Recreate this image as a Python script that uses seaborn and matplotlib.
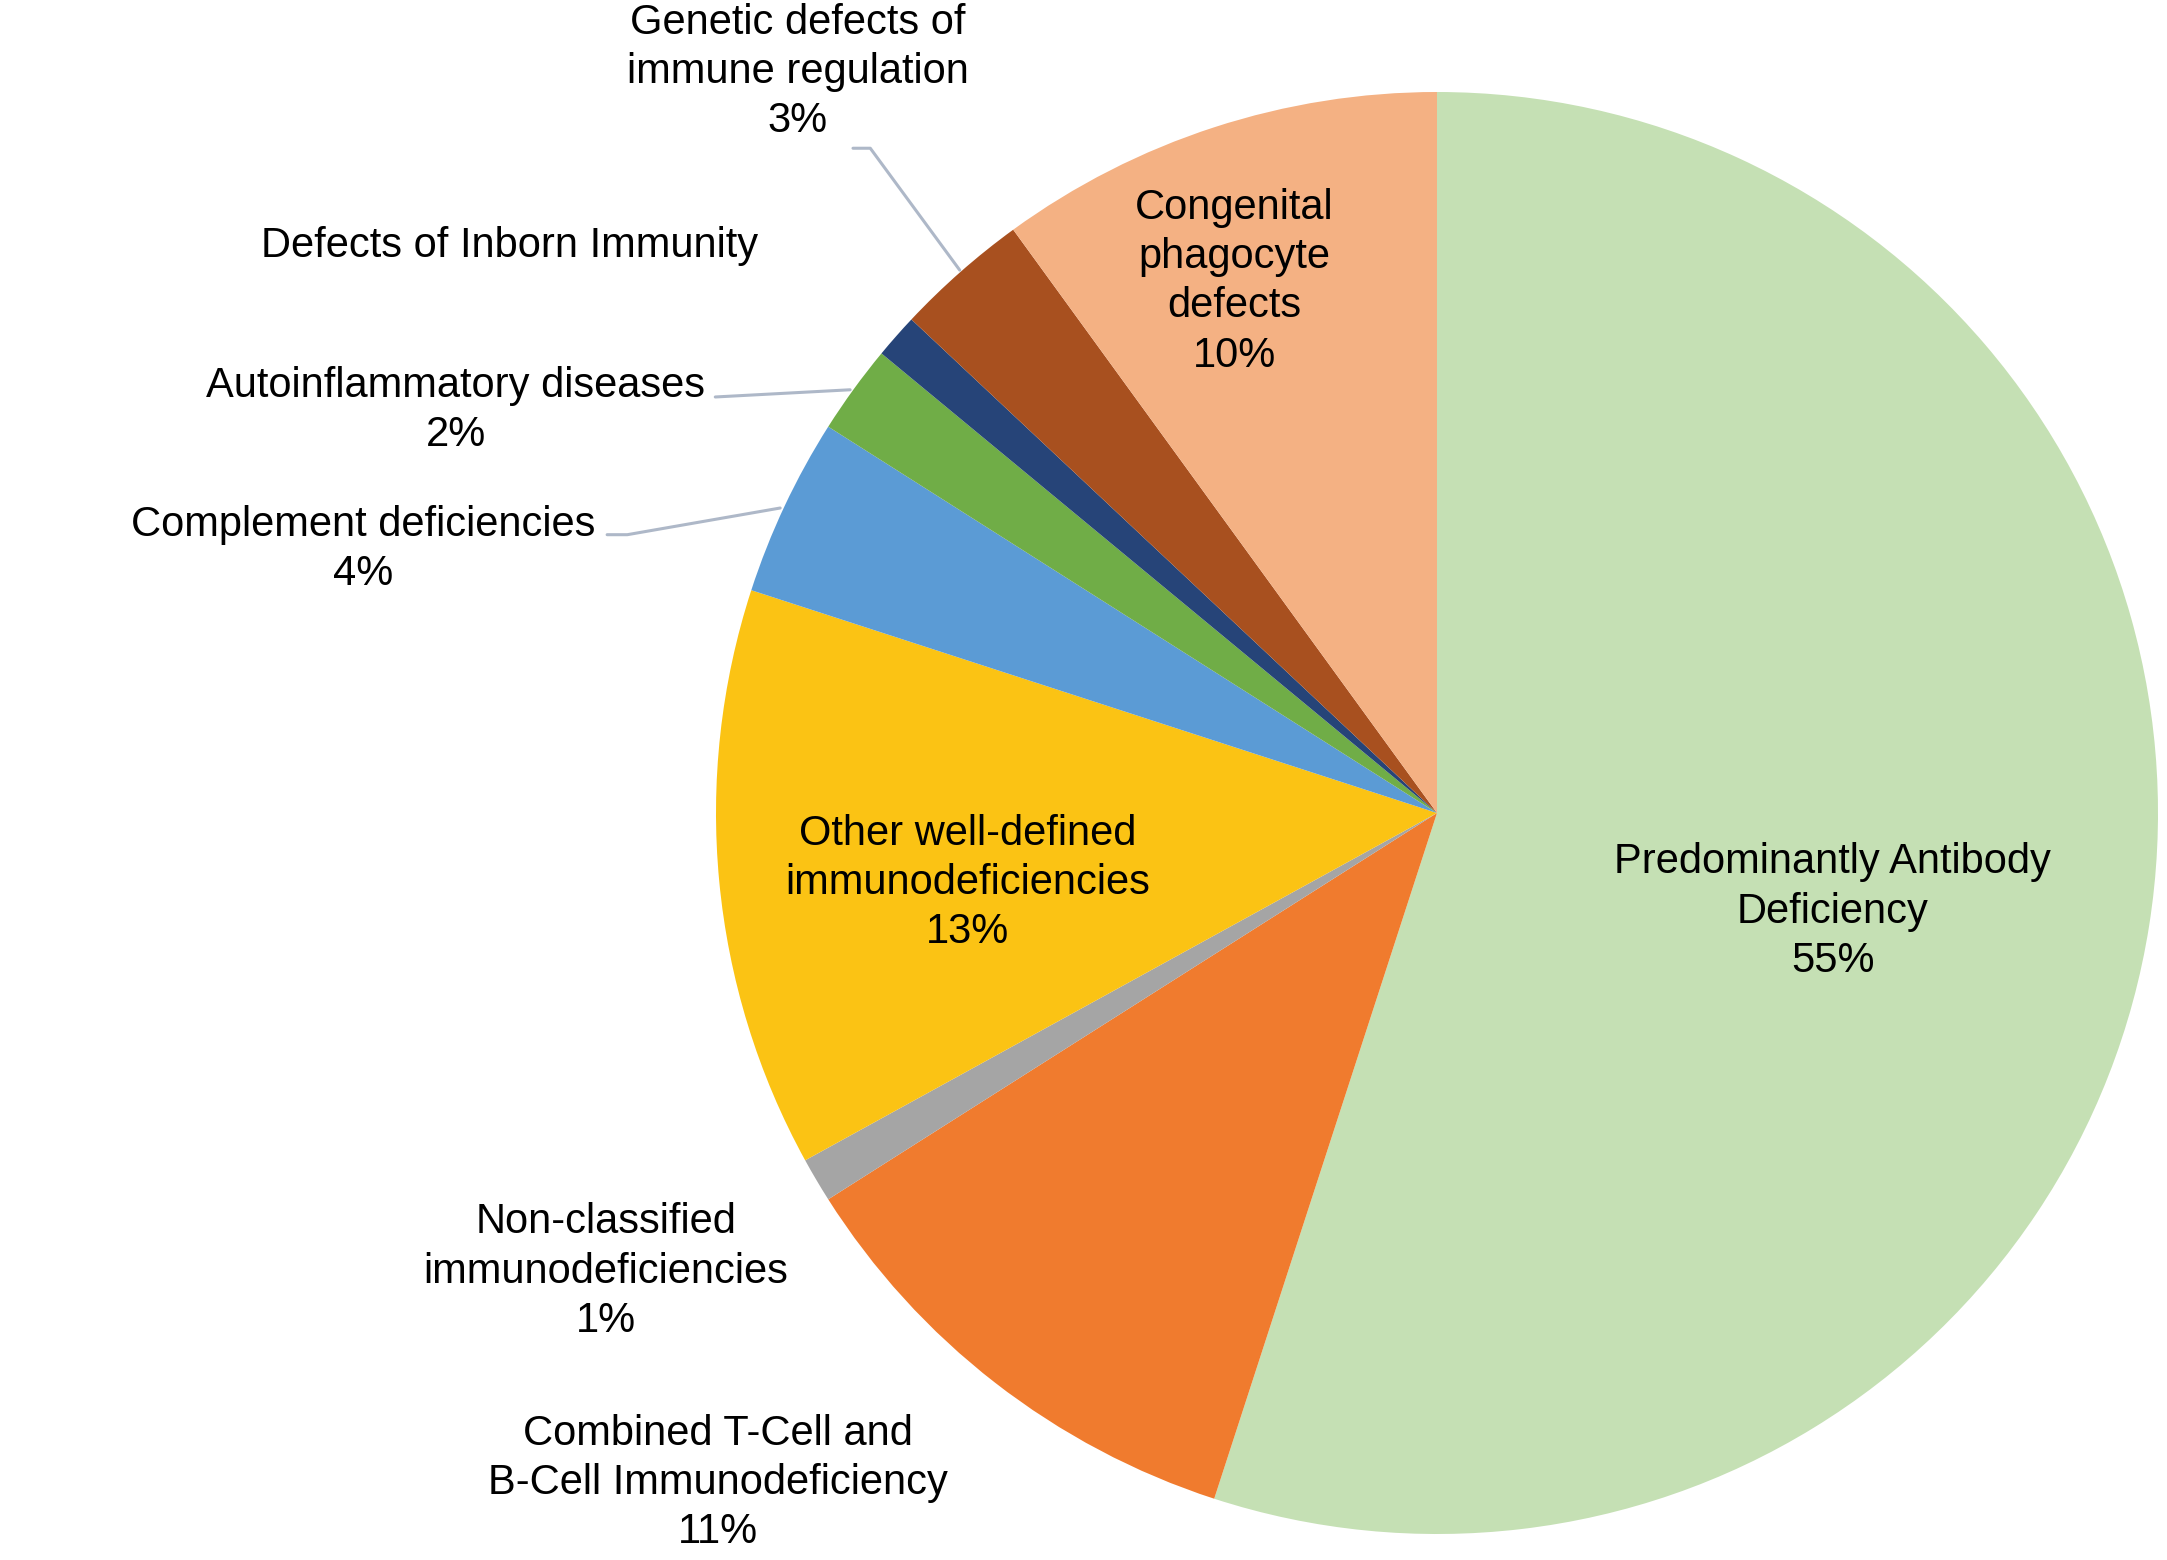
import matplotlib
matplotlib.use('Agg')
import matplotlib.pyplot as plt
import seaborn as sns

# slices, clockwise from 12 o'clock
categories = [
    "Predominantly Antibody\nDeficiency",
    "Combined T-Cell and\nB-Cell Immunodeficiency",
    "Non-classified\nimmunodeficiencies",
    "Other well-defined\nimmunodeficiencies",
    "Complement deficiencies",
    "Autoinflammatory diseases",
    "Defects of Inborn Immunity",
    "Genetic defects of\nimmune regulation",
    "Congenital\nphagocyte\ndefects",
]
shares = [55, 11, 1, 13, 4, 2, 1, 3, 10]
show_pct = [True, True, True, True, True, True, False, True, True]

colors = ["#C5E0B4", "#F07B2E", "#A5A5A5", "#FBC314", "#5B9BD5",
          "#70AD47", "#264478", "#A8501F", "#F4B183"]

# label centres, in units of the pie radius
label_pos = [(0.549, -0.137), (-0.998, -0.929), (-1.153, -0.636),
             (-0.651, -0.097), (-1.489, 0.365), (-1.361, 0.558),
             (-1.286, 0.786), (-0.887, 1.028), (-0.281, 0.737)]

# leader lines (label side -> slice)
leaders = [
    [(-0.810, 0.922), (-0.786, 0.922), (-0.662, 0.753)],
    [(-1.001, 0.577), (-0.814, 0.587)],
    [(-1.151, 0.386), (-1.123, 0.386), (-0.911, 0.423)],
]

sns.set_theme(style="white")
plt.rcParams['font.family'] = ['Liberation Sans', 'DejaVu Sans']

fig = plt.figure(figsize=(21.67, 15.6), dpi=100)
ax = fig.add_axes([0, 0, 1, 1])

ax.pie(shares, colors=colors, startangle=90, counterclock=False,
       radius=1, center=(0, 0), wedgeprops=dict(linewidth=0))

for i, (name, val) in enumerate(zip(categories, shares)):
    txt = f"{name}\n{val}%" if show_pct[i] else name
    x, y = label_pos[i]
    ax.text(x, y, txt, ha="center", va="center", fontsize=30,
            color="black", linespacing=1.3)

for pts in leaders:
    xs, ys = zip(*pts)
    ax.plot(xs, ys, color="#AEB8C8", lw=2.2, solid_capstyle="round")

# pie centre at (1437, 813) px, radius 721 px
ax.set_xlim(-1437 / 721, (2167 - 1437) / 721)
ax.set_ylim(-(1560 - 813) / 721, 813 / 721)
ax.set_aspect("equal")
ax.axis("off")

fig.savefig("out.png", dpi=100, facecolor="white")
